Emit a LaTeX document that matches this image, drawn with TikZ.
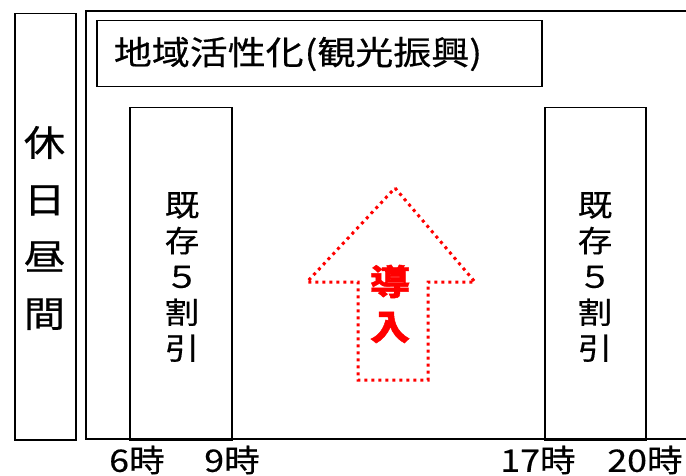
\documentclass[tikz,border=0pt]{standalone}
\usepackage{fontspec}
\setmainfont{Noto Sans CJK JP}[FakeStretch=1.15,FakeBold=0.4,BoldFeatures={FakeBold=1.2}]
\begin{document}
\begin{tikzpicture}[x=1pt,y=-1pt,
  box/.style={draw=black,line width=1.5pt,inner sep=0pt,anchor=north west},
  vtext/.style={align=center,inner sep=0pt},
  tlabel/.style={font=\fontsize{31}{31}\selectfont,inner sep=0pt},
  arrowline/.style={draw=red,line width=3pt,dash pattern=on 3pt off 4pt}]
\useasboundingbox (0,0) rectangle (686,476);
% left tall box
\node[box,minimum width=61pt,minimum height=426pt] (hol) at (14,13) {};
\node[vtext,font=\fontsize{36}{57}\selectfont] (holt) at (44.5,228) {休\\日\\昼\\間};
% big frame (cut at right)
\coordinate (fbl) at (86,439);
\coordinate (ftl) at (86,11);
\coordinate (ftr) at (687,11);
\coordinate (fbr) at (687,439);
\draw[line width=1.5pt] (fbr) -- (fbl) -- (ftl) -- (ftr);
% title box
\node[box,minimum width=445pt,minimum height=66pt] (title) at (96,20) {};
\node[inner sep=0pt,font=\fontsize{33}{33}\selectfont] (titlet) at (298,54) {地域活性化\kern1pt(観光振興)};
% inner boxes
\node[box,minimum width=102pt,minimum height=332pt] (lbox) at (129,107) {};
\node[box,minimum width=101pt,minimum height=332pt] (rbox) at (544,107) {};
\node[vtext,font=\fontsize{30}{35.8}\selectfont] (lt) at (182,277) {既\\存\\５\\割\\引};
\node[vtext,font=\fontsize{30}{35.8}\selectfont] (rt) at (595,277) {既\\存\\５\\割\\引};
% arrow
\coordinate (atip) at (395,188);
\coordinate (awr) at (475,282);
\coordinate (asr) at (428,282);
\coordinate (abr) at (428,380);
\coordinate (abl) at (358,380);
\coordinate (asl) at (358,282);
\coordinate (awl) at (307,282);
\draw[arrowline] (atip) -- (awr) -- (asr) -- (abr) -- (abl) -- (asl) -- (awl) -- cycle;
\node[vtext,text=red,font=\fontsize{35}{45}\selectfont\bfseries] (intro) at (390,304) {導\\入};
% time labels
\node[tlabel] (t6) at (137,460) {6時};
\node[tlabel] (t9) at (232,460) {9時};
\node[tlabel] (t17) at (538,460) {17時};
\node[tlabel] (t20) at (645,460) {20時};
\end{tikzpicture}
\end{document}
